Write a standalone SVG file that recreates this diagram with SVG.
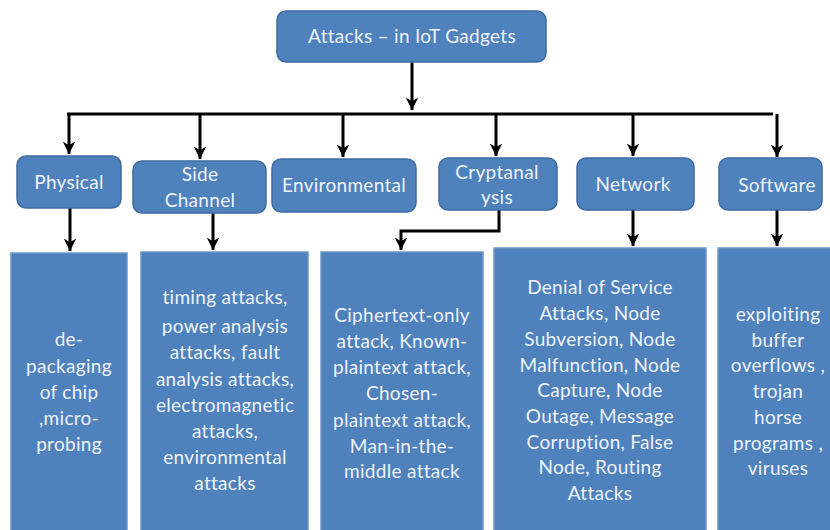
<svg xmlns="http://www.w3.org/2000/svg" width="830" height="530" viewBox="0 0 830 530">
<defs>
<style>
.n{fill:#4F81BD;stroke:#3E6CA3;stroke-width:1.5}
.b{fill:#4F81BD;stroke:#6F97C8;stroke-width:1.5}
.t{font-family:Lato,"Open Sans",sans-serif;font-size:19px;letter-spacing:0.3px;fill:#EEF3FB;text-anchor:middle}
.c{fill:none;stroke:#000;stroke-width:3}
</style>
<marker id="ah" viewBox="0 0 12 12" refX="10" refY="6" markerWidth="5" markerHeight="5" markerUnits="strokeWidth" orient="auto">
<path d="M0,1 L10,6 L0,11 L3,6 Z" fill="#000"/>
</marker>
</defs>
<rect width="830" height="530" fill="#fff"/>
<g id="connectors">
<path class="c" d="M412,62 V110" marker-end="url(#ah)"/>
<path class="c" d="M67,114 H773"/>
<path class="c" d="M69,114 V154" marker-end="url(#ah)"/>
<path class="c" d="M200,114 V159" marker-end="url(#ah)"/>
<path class="c" d="M343,114 V157" marker-end="url(#ah)"/>
<path class="c" d="M496,114 V156" marker-end="url(#ah)"/>
<path class="c" d="M633,114 V156" marker-end="url(#ah)"/>
<path class="c" d="M777,114 V157" marker-end="url(#ah)"/>
<path class="c" d="M70,208 V251" marker-end="url(#ah)"/>
<path class="c" d="M213,205 V250" marker-end="url(#ah)"/>
<path class="c" d="M499,210 V231 H401 V250" marker-end="url(#ah)"/>
<path class="c" d="M633,210 V246" marker-end="url(#ah)"/>
<path class="c" d="M777,210 V246" marker-end="url(#ah)"/>
</g>
<g id="root"><rect class="n" x="277" y="11" width="269" height="51" rx="9"/><text class="t" x="412" y="43">Attacks – in IoT Gadgets</text></g>
<g id="physical"><rect class="n" x="17" y="156" width="104" height="52" rx="9"/><text class="t" x="69" y="189">Physical</text></g>
<g id="side-channel"><rect class="n" x="133" y="161" width="133" height="52" rx="9"/><text class="t" x="200" y="181">Side</text><text class="t" x="200" y="207">Channel</text></g>
<g id="environmental"><rect class="n" x="272" y="159" width="144" height="53" rx="9"/><text class="t" x="344" y="192">Environmental</text></g>
<g id="cryptanalysis"><rect class="n" x="439" y="158" width="118" height="52" rx="9"/><text class="t" x="497" y="179">Cryptanal</text><text class="t" x="497" y="204">ysis</text></g>
<g id="network"><rect class="n" x="577" y="158" width="117" height="52" rx="9"/><text class="t" x="633" y="191">Network</text></g>
<g id="software"><rect class="n" x="719" y="158" width="103" height="52" rx="9"/><text class="t" x="777" y="192">Software</text></g>
<g id="physical-detail"><rect class="b" x="11" y="253" width="116" height="290"/>
<text class="t" x="69"><tspan x="69" y="346">de-</tspan><tspan x="69" y="373">packaging</tspan><tspan x="69" y="399">of chip</tspan><tspan x="69" y="425">,micro-</tspan><tspan x="69" y="451">probing</tspan></text></g>
<g id="side-channel-detail"><rect class="b" x="141" y="252" width="167" height="290"/>
<text class="t" x="225"><tspan x="225" y="304">timing attacks,</tspan><tspan x="225" y="333">power analysis</tspan><tspan x="225" y="359">attacks, fault</tspan><tspan x="225" y="386">analysis attacks,</tspan><tspan x="225" y="412">electromagnetic</tspan><tspan x="225" y="438">attacks,</tspan><tspan x="225" y="464">environmental</tspan><tspan x="225" y="490">attacks</tspan></text></g>
<g id="cryptanalysis-detail"><rect class="b" x="321" y="252" width="162" height="290"/>
<text class="t" x="402"><tspan x="402" y="322">Ciphertext-only</tspan><tspan x="402" y="348">attack, Known-</tspan><tspan x="402" y="374">plaintext attack,</tspan><tspan x="402" y="400">Chosen-</tspan><tspan x="402" y="427">plaintext attack,</tspan><tspan x="402" y="453">Man-in-the-</tspan><tspan x="402" y="478">middle attack</tspan></text></g>
<g id="network-detail"><rect class="b" x="494" y="248" width="212" height="295"/>
<text class="t" x="600"><tspan x="600" y="294">Denial of Service</tspan><tspan x="600" y="320">Attacks, Node</tspan><tspan x="600" y="346">Subversion, Node</tspan><tspan x="600" y="372">Malfunction, Node</tspan><tspan x="600" y="397">Capture, Node</tspan><tspan x="600" y="423">Outage, Message</tspan><tspan x="600" y="449">Corruption, False</tspan><tspan x="600" y="474">Node, Routing</tspan><tspan x="600" y="500">Attacks</tspan></text></g>
<g id="software-detail"><rect class="b" x="718" y="248" width="125" height="295"/>
<text class="t" x="778"><tspan x="778" y="321">exploiting</tspan><tspan x="778" y="347">buffer</tspan><tspan x="778" y="372">overflows ,</tspan><tspan x="778" y="398">trojan</tspan><tspan x="778" y="424">horse</tspan><tspan x="778" y="450">programs ,</tspan><tspan x="778" y="475">viruses</tspan></text></g>
</svg>
